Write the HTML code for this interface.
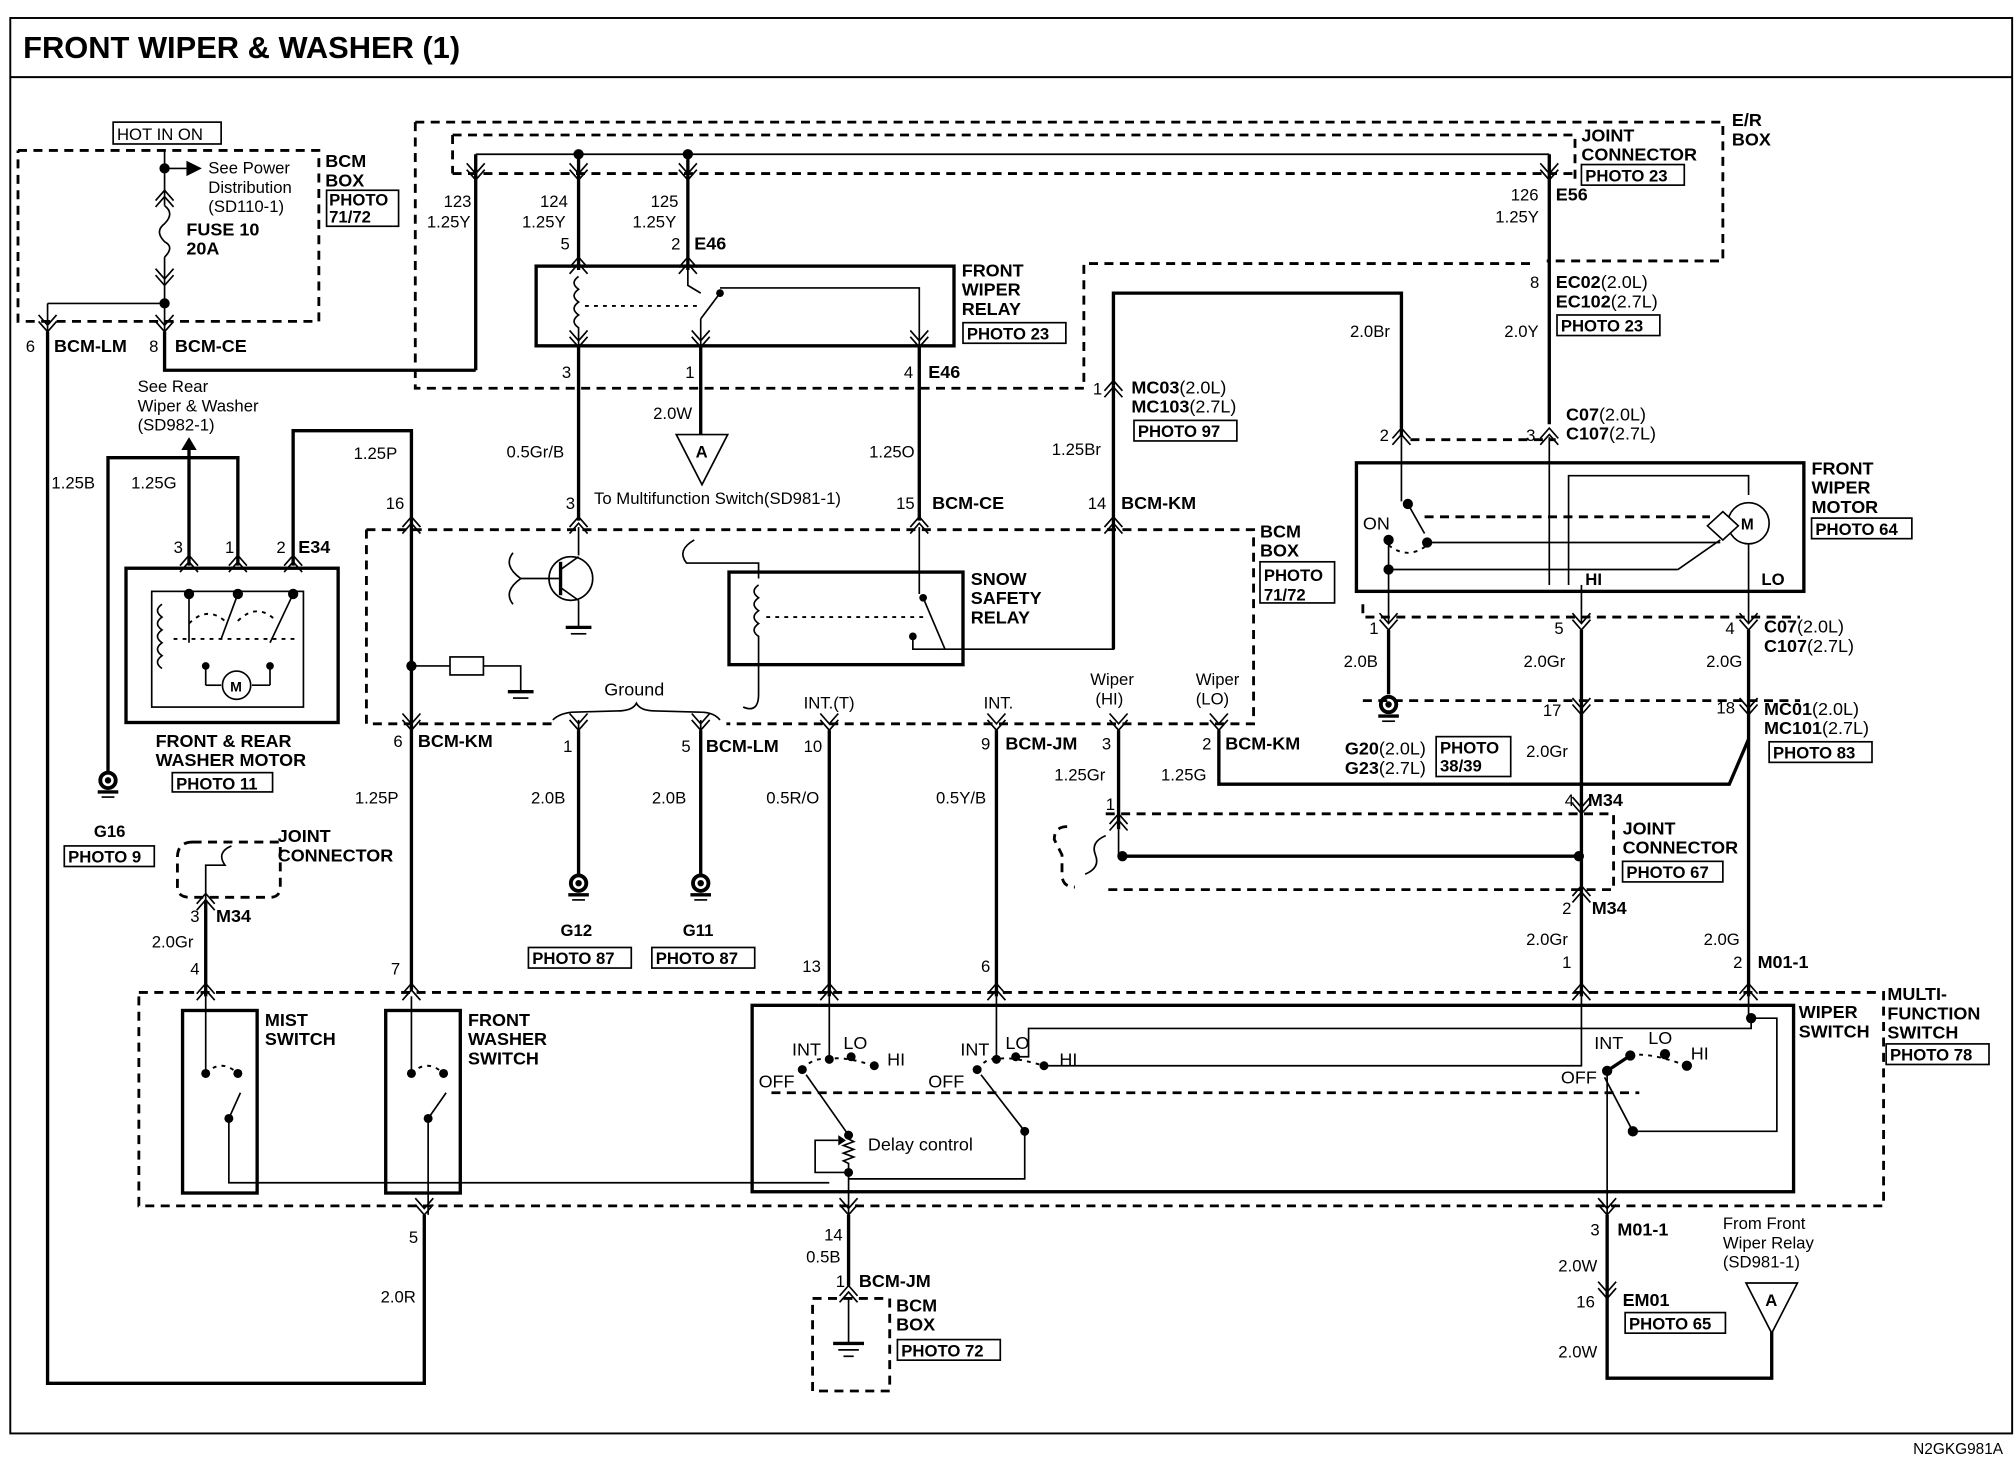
<!DOCTYPE html>
<html><head><meta charset="utf-8"><style>
html,body{margin:0;padding:0;background:#fff;}
svg{display:block;}
text{font-family:"Liberation Sans",Arial,sans-serif;fill:#000;}
.b{font-weight:bold;}
.w{stroke:#000;stroke-width:2.6;fill:none;}
.t{stroke:#000;stroke-width:1.3;fill:none;}
.d{stroke:#000;stroke-width:2.2;fill:none;stroke-dasharray:7 5;}
.dt{stroke:#000;stroke-width:1.5;fill:none;stroke-dasharray:3 4;}
.bx{stroke:#000;stroke-width:2.6;fill:none;}
.pb{stroke:#000;stroke-width:1.3;fill:#fff;}
</style></head><body>
<svg width="2016" height="1472" viewBox="0 0 1568 1145" preserveAspectRatio="none" xmlns="http://www.w3.org/2000/svg">
<defs>
<g id="cu"><polyline points="-7,8 0,0 7,8" class="t"/><polyline points="-7,13 0,5 7,13" class="t"/></g>
<g id="cd"><polyline points="-7,-8 0,0 7,-8" class="t"/><polyline points="-7,-13 0,-5 7,-13" class="t"/></g>
<g id="gnd"><circle r="6" fill="none" stroke="#000" stroke-width="3"/><circle r="2.5" fill="#000"/><line x1="-8" y1="9" x2="8" y2="9" class="w"/><line x1="-5" y1="13" x2="5" y2="13" class="t"/></g>
</defs>
<rect width="1568" height="1145" fill="#fff"/>
<rect x="8" y="14" width="1557" height="1101" class="t" style="stroke-width:1.5"/>
<line x1="8" y1="60" x2="1565" y2="60" class="t" style="stroke-width:1.5"/>
<text x="18" y="45" class="b" font-size="24">FRONT WIPER &amp; WASHER (1)</text>
<text x="1488" y="1131" font-size="12">N2GKG981A</text>

<rect x="88" y="95" width="84" height="17" class="pb"/><text x="91" y="109" font-size="13">HOT IN ON</text>
<polyline points="14,117 248,117 248,250 14,250 14,117" class="d"/>
<text x="253" y="130" class="b" font-size="14">BCM</text><text x="253" y="145" class="b" font-size="14">BOX</text>
<rect x="254" y="148" width="56" height="28" class="pb"/><text x="256" y="160" class="b" font-size="13">PHOTO</text><text x="256" y="173" class="b" font-size="13">71/72</text>
<line x1="128" y1="117" x2="128" y2="160" class="t"/><circle cx="128" cy="131" r="4"/>
<line x1="128" y1="131" x2="145" y2="131" class="t"/><polygon points="145,125 157,131 145,137"/>
<text x="162" y="135" font-size="13">See Power</text><text x="162" y="150" font-size="13">Distribution</text><text x="162" y="165" font-size="13">(SD110-1)</text>
<use href="#cu" x="128" y="148"/>
<path d="M128,160 q8,6 0,14 q-8,6 0,14 q8,4 0,12" class="t"/>
<text x="145" y="183" class="b" font-size="14">FUSE 10</text><text x="145" y="198" class="b" font-size="14">20A</text>
<line x1="128" y1="200" x2="128" y2="285" class="t"/>
<use href="#cd" x="128" y="222"/>
<circle cx="128" cy="236" r="4"/><line x1="37" y1="236" x2="128" y2="236" class="t"/>
<line x1="37" y1="236" x2="37" y2="260" class="t"/>
<use href="#cd" x="37" y="258"/><use href="#cd" x="128" y="258"/>
<text x="20" y="274" font-size="13">6</text><text x="42" y="274" class="b" font-size="14">BCM-LM</text>
<text x="116" y="274" font-size="13">8</text><text x="136" y="274" class="b" font-size="14">BCM-CE</text>
<polyline points="128,258 128,288 370,288" class="w"/>
<polyline points="37,258 37,1076 330,1076 330,945" class="w"/>

<polyline points="323,95 1340,95 1340,203 1203,203" class="d"/>
<polyline points="323,95 323,302 843,302 843,205 1195,205" class="d"/>
<polyline points="352,105 1225,105 1225,140" class="d"/>
<line x1="352" y1="105" x2="352" y2="135" class="d"/>
<line x1="352" y1="135" x2="1225" y2="135" class="d"/>
<text x="1347" y="98" class="b" font-size="14">E/R</text><text x="1347" y="113" class="b" font-size="14">BOX</text>
<text x="1230" y="110" class="b" font-size="14">JOINT</text><text x="1230" y="125" class="b" font-size="14">CONNECTOR</text>
<rect x="1230" y="128" width="80" height="16" class="pb"/><text x="1233" y="141" class="b" font-size="13">PHOTO 23</text>
<line x1="370" y1="120" x2="1205" y2="120" class="t"/>
<circle cx="450" cy="120" r="4"/><circle cx="535" cy="120" r="4"/>
<line x1="450" y1="120" x2="450" y2="210" class="w"/><line x1="535" y1="120" x2="535" y2="210" class="w"/>
<line x1="370" y1="120" x2="370" y2="288" class="w"/>
<line x1="1205" y1="120" x2="1205" y2="330" class="w"/>
<use href="#cd" x="370" y="140"/><use href="#cd" x="450" y="140"/><use href="#cd" x="535" y="140"/><use href="#cd" x="1205" y="140"/>
<text x="345" y="161" font-size="13">123</text><text x="332" y="177" font-size="13">1.25Y</text>
<text x="420" y="161" font-size="13">124</text><text x="406" y="177" font-size="13">1.25Y</text>
<text x="506" y="161" font-size="13">125</text><text x="492" y="177" font-size="13">1.25Y</text>
<text x="1175" y="156" font-size="13">126</text><text x="1210" y="156" class="b" font-size="14">E56</text><text x="1163" y="173" font-size="13">1.25Y</text>

<text x="436" y="194" font-size="13">5</text><text x="522" y="194" font-size="13">2</text><text x="540" y="194" class="b" font-size="14">E46</text>
<use href="#cu" x="450" y="200"/><use href="#cu" x="535" y="200"/>
<rect x="417" y="207" width="325" height="62" class="bx"/>
<text x="748" y="215" class="b" font-size="14">FRONT</text><text x="748" y="230" class="b" font-size="14">WIPER</text><text x="748" y="245" class="b" font-size="14">RELAY</text>
<rect x="749" y="251" width="80" height="16" class="pb"/><text x="752" y="264" class="b" font-size="13">PHOTO 23</text>
<path d="M450,215 q-7,5 0,10 q-7,5 0,10 q-7,5 0,10 q-7,5 0,10 L450,270" class="t"/>
<line x1="455" y1="238" x2="545" y2="238" class="dt"/>
<polyline points="535,210 535,222 545,228" class="t"/><circle cx="560" cy="228" r="3"/>
<line x1="560" y1="228" x2="545" y2="248" class="t"/><polyline points="545,248 545,275" class="t"/>
<polyline points="560,224 715,224 715,275" class="t"/>
<use href="#cd" x="450" y="270"/><use href="#cd" x="545" y="270"/><use href="#cd" x="715" y="270"/>
<text x="437" y="294" font-size="13">3</text><text x="533" y="294" font-size="13">1</text><text x="703" y="294" font-size="13">4</text><text x="722" y="294" class="b" font-size="14">E46</text>
<line x1="450" y1="270" x2="450" y2="405" class="w"/>
<line x1="545" y1="270" x2="545" y2="340" class="w"/>
<line x1="715" y1="270" x2="715" y2="405" class="w"/>
<text x="508" y="326" font-size="13">2.0W</text>
<polygon points="526,338 566,338 546,377" class="pb"/><text x="541" y="356" class="b" font-size="13">A</text>
<text x="462" y="392" font-size="13">To Multifunction Switch(SD981-1)</text>
<text x="394" y="356" font-size="13">0.5Gr/B</text><text x="676" y="356" font-size="13">1.25O</text>

<text x="107" y="305" font-size="13">See Rear</text><text x="107" y="320" font-size="13">Wiper &amp; Washer</text><text x="107" y="335" font-size="13">(SD982-1)</text>
<polygon points="141,350 153,350 147,340"/>
<line x1="147" y1="345" x2="147" y2="440" class="w"/>
<polyline points="84,600 84,356 185,356 185,440" class="w"/>
<polyline points="228,440 228,335 320,335 320,770" class="w"/>
<text x="40" y="380" font-size="13">1.25B</text><text x="102" y="380" font-size="13">1.25G</text><text x="275" y="357" font-size="13">1.25P</text>
<use href="#cu" x="147" y="432"/><use href="#cu" x="185" y="432"/><use href="#cu" x="228" y="432"/>
<text x="135" y="430" font-size="13">3</text><text x="175" y="430" font-size="13">1</text><text x="215" y="430" font-size="13">2</text><text x="232" y="430" class="b" font-size="14">E34</text>
<rect x="98" y="442" width="165" height="120" class="bx"/>
<rect x="118" y="460" width="118" height="90" class="t"/>
<path d="M126,470 q-7,5 0,10 q-7,5 0,10 q-7,5 0,10 q-7,5 0,10 q-7,5 0,10" class="t"/>
<circle cx="147" cy="462" r="4"/><circle cx="185" cy="462" r="4"/><circle cx="228" cy="462" r="4"/>
<line x1="147" y1="462" x2="147" y2="500" class="t"/><line x1="185" y1="462" x2="172" y2="497" class="t"/><line x1="228" y1="462" x2="210" y2="500" class="t"/>
<path d="M147,485 q15,-15 30,0 M185,483 q15,-15 30,0" class="dt"/>
<line x1="135" y1="497" x2="230" y2="497" class="dt"/>
<circle cx="160" cy="518" r="3"/><circle cx="210" cy="518" r="3"/>
<line x1="160" y1="518" x2="160" y2="533" class="t"/><line x1="210" y1="518" x2="210" y2="533" class="t"/>
<line x1="160" y1="533" x2="172" y2="533" class="t"/><line x1="196" y1="533" x2="210" y2="533" class="t"/>
<circle cx="184" cy="533" r="11" class="pb"/><text x="179" y="538" class="b" font-size="11">M</text>
<text x="121" y="581" class="b" font-size="14">FRONT &amp; REAR</text><text x="121" y="596" class="b" font-size="14">WASHER MOTOR</text>
<rect x="134" y="601" width="78" height="15" class="pb"/><text x="137" y="614" class="b" font-size="13">PHOTO 11</text>
<use href="#gnd" x="84" y="607"/>
<text x="73" y="651" class="b" font-size="13">G16</text>
<rect x="50" y="658" width="70" height="16" class="pb"/><text x="53" y="671" class="b" font-size="13">PHOTO 9</text>

<polyline points="285,412 975,412 975,563 565,563" class="d"/>
<polyline points="285,412 285,563 430,563" class="d"/>
<text x="980" y="418" class="b" font-size="14">BCM</text><text x="980" y="433" class="b" font-size="14">BOX</text>
<rect x="980" y="437" width="58" height="32" class="pb"/><text x="983" y="452" class="b" font-size="13">PHOTO</text><text x="983" y="467" class="b" font-size="13">71/72</text>
<text x="300" y="396" font-size="13">16</text><use href="#cu" x="320" y="402"/>
<text x="440" y="396" font-size="13">3</text><use href="#cu" x="450" y="402"/>
<text x="697" y="396" font-size="13">15</text><text x="725" y="396" class="b" font-size="14">BCM-CE</text><use href="#cu" x="715" y="402"/>
<text x="846" y="396" font-size="13">14</text><text x="872" y="396" class="b" font-size="14">BCM-KM</text><use href="#cu" x="866" y="402"/>
<line x1="450" y1="410" x2="450" y2="432" class="t"/>
<circle cx="444" cy="450" r="17" class="t"/>
<line x1="436" y1="437" x2="436" y2="463" class="w"/>
<line x1="436" y1="443" x2="450" y2="433" class="t"/><line x1="436" y1="457" x2="450" y2="467" class="t"/>
<line x1="405" y1="450" x2="436" y2="450" class="t"/><path d="M405,450 q-14,-10 -6,-20 M405,450 q-14,10 -6,20" class="t"/>
<line x1="450" y1="467" x2="450" y2="487" class="t"/><line x1="440" y1="488" x2="460" y2="488" class="w"/><line x1="444" y1="493" x2="456" y2="493" class="t"/>
<path d="M540,420 q-14,8 -6,18 L545,438 L590,438 L590,450" class="t"/>
<rect x="567" y="445" width="182" height="72" class="bx"/>
<text x="755" y="455" class="b" font-size="14">SNOW</text><text x="755" y="470" class="b" font-size="14">SAFETY</text><text x="755" y="485" class="b" font-size="14">RELAY</text>
<path d="M590,455 q-7,5 0,10 q-7,5 0,10 q-7,5 0,10 q-7,5 0,10 L590,540 q0,15 -12,10" class="t"/>
<line x1="596" y1="480" x2="720" y2="480" class="dt"/>
<line x1="715" y1="410" x2="715" y2="462" class="t"/><circle cx="718" cy="465" r="3"/>
<line x1="718" y1="465" x2="735" y2="505" class="t"/>
<circle cx="710" cy="495" r="3"/><polyline points="710,495 710,505 866,505 866,410" class="t"/>
<line x1="866" y1="300" x2="866" y2="505" class="w"/>
<polyline points="866,300 866,228 1090,228 1090,340" class="w"/>
<text x="1050" y="262" font-size="13">2.0Br</text><text x="1170" y="262" font-size="13">2.0Y</text>
<text x="818" y="354" font-size="13">1.25Br</text>
<text x="850" y="307" font-size="13">1</text><use href="#cu" x="866" y="296"/>
<text x="880" y="306" class="b" font-size="14">MC03<tspan font-weight="normal">(2.0L)</tspan></text>
<text x="880" y="321" class="b" font-size="14">MC103<tspan font-weight="normal">(2.7L)</tspan></text>
<rect x="882" y="327" width="80" height="16" class="pb"/><text x="885" y="340" class="b" font-size="13">PHOTO 97</text>
<circle cx="320" cy="518" r="4"/><line x1="320" y1="518" x2="350" y2="518" class="t"/>
<rect x="350" y="511" width="26" height="14" class="t"/><polyline points="376,518 405,518 405,538" class="t"/>
<line x1="395" y1="538" x2="415" y2="538" class="w"/><line x1="399" y1="543" x2="411" y2="543" class="t"/>
<text x="470" y="541" font-size="14">Ground</text>
<path d="M430,560 q5,-5 15,-6 L480,553 q12,0 15,-6 q3,6 15,6 L545,554 q10,0 15,6" class="t"/>
<line x1="450" y1="560" x2="450" y2="570" class="t"/><line x1="545" y1="560" x2="545" y2="570" class="t"/>
<use href="#cd" x="320" y="568"/><use href="#cd" x="450" y="568"/><use href="#cd" x="545" y="568"/>
<use href="#cd" x="645" y="568"/><use href="#cd" x="775" y="568"/><use href="#cd" x="870" y="568"/><use href="#cd" x="948" y="568"/>
<text x="306" y="581" font-size="13">6</text><text x="325" y="581" class="b" font-size="14">BCM-KM</text>
<text x="438" y="585" font-size="13">1</text><text x="530" y="585" font-size="13">5</text><text x="549" y="585" class="b" font-size="14">BCM-LM</text>
<text x="625" y="585" font-size="13">10</text><text x="763" y="583" font-size="13">9</text><text x="782" y="583" class="b" font-size="14">BCM-JM</text>
<text x="857" y="583" font-size="13">3</text><text x="935" y="583" font-size="13">2</text><text x="953" y="583" class="b" font-size="14">BCM-KM</text>
<text x="625" y="551" font-size="13">INT.(T)</text><text x="765" y="551" font-size="13">INT.</text>
<text x="848" y="533" font-size="13">Wiper</text><text x="852" y="548" font-size="13">(HI)</text>
<text x="930" y="533" font-size="13">Wiper</text><text x="930" y="548" font-size="13">(LO)</text>
<line x1="450" y1="568" x2="450" y2="680" class="w"/><line x1="545" y1="568" x2="545" y2="680" class="w"/>
<use href="#gnd" x="450" y="687"/><use href="#gnd" x="545" y="687"/>
<text x="413" y="625" font-size="13">2.0B</text><text x="507" y="625" font-size="13">2.0B</text>
<text x="436" y="728" class="b" font-size="13">G12</text><text x="531" y="728" class="b" font-size="13">G11</text>
<rect x="411" y="737" width="80" height="16" class="pb"/><text x="414" y="750" class="b" font-size="13">PHOTO 87</text>
<rect x="507" y="737" width="80" height="16" class="pb"/><text x="510" y="750" class="b" font-size="13">PHOTO 87</text>
<line x1="645" y1="568" x2="645" y2="775" class="w"/><line x1="775" y1="568" x2="775" y2="775" class="w"/>
<text x="596" y="625" font-size="13">0.5R/O</text><text x="728" y="625" font-size="13">0.5Y/B</text>
<text x="276" y="625" font-size="13">1.25P</text>
<line x1="870" y1="568" x2="870" y2="645" class="w"/>
<polyline points="948,568 948,610 1345,610 1360,575" class="w"/>
<text x="820" y="607" font-size="13">1.25Gr</text><text x="903" y="607" font-size="13">1.25G</text>
<text x="860" y="630" font-size="13">1</text><use href="#cu" x="870" y="633"/>

<text x="1210" y="224" class="b" font-size="14">EC02<tspan font-weight="normal">(2.0L)</tspan></text>
<text x="1210" y="239" class="b" font-size="14">EC102<tspan font-weight="normal">(2.7L)</tspan></text>
<rect x="1211" y="245" width="80" height="16" class="pb"/><text x="1214" y="258" class="b" font-size="13">PHOTO 23</text>
<text x="1190" y="224" font-size="13">8</text>
<text x="1073" y="343" font-size="13">2</text><use href="#cu" x="1090" y="333"/>
<text x="1187" y="343" font-size="13">3</text><use href="#cu" x="1205" y="333"/>
<polyline points="1097,342 1210,342" class="d"/>
<text x="1218" y="327" class="b" font-size="14">C07<tspan font-weight="normal">(2.0L)</tspan></text>
<text x="1218" y="342" class="b" font-size="14">C107<tspan font-weight="normal">(2.7L)</tspan></text>
<rect x="1055" y="360" width="348" height="100" class="bx"/>
<text x="1409" y="369" class="b" font-size="14">FRONT</text><text x="1409" y="384" class="b" font-size="14">WIPER</text><text x="1409" y="399" class="b" font-size="14">MOTOR</text>
<rect x="1409" y="403" width="78" height="16" class="pb"/><text x="1412" y="416" class="b" font-size="13">PHOTO 64</text>
<line x1="1090" y1="340" x2="1090" y2="390" class="t"/><circle cx="1095" cy="392" r="4"/>
<line x1="1095" y1="392" x2="1108" y2="415" class="t"/><circle cx="1110" cy="422" r="4"/><circle cx="1080" cy="420" r="4"/>
<path d="M1080,424 q15,12 30,0" class="dt"/><line x1="1108" y1="402" x2="1330" y2="402" class="d"/>
<line x1="1110" y1="422" x2="1338" y2="422" class="t"/>
<text x="1060" y="412" font-size="14">ON</text>
<circle cx="1080" cy="443" r="4"/><line x1="1080" y1="420" x2="1080" y2="485" class="t"/>
<line x1="1080" y1="443" x2="1305" y2="443" class="t"/><line x1="1305" y1="443" x2="1338" y2="420" class="t"/>
<line x1="1205" y1="340" x2="1205" y2="455" class="t"/>
<polyline points="1220,455 1220,370 1360,370 1360,385" class="t"/>
<circle cx="1360" cy="407" r="16" class="pb"/><text x="1354" y="412" class="b" font-size="12">M</text>
<polygon points="1328,409 1340,398 1352,409 1340,420" class="pb"/>
<line x1="1360" y1="423" x2="1360" y2="485" class="t"/>
<line x1="1230" y1="455" x2="1230" y2="485" class="t"/>
<text x="1233" y="455" class="b" font-size="13">HI</text><text x="1370" y="455" class="b" font-size="13">LO</text>
<polyline points="1060,470 1060,480 1400,480" class="d"/>
<use href="#cd" x="1080" y="490"/><use href="#cd" x="1230" y="490"/><use href="#cd" x="1360" y="490"/>
<text x="1065" y="493" font-size="13">1</text><text x="1209" y="493" font-size="13">5</text><text x="1342" y="493" font-size="13">4</text>
<text x="1372" y="492" class="b" font-size="14">C07<tspan font-weight="normal">(2.0L)</tspan></text>
<text x="1372" y="507" class="b" font-size="14">C107<tspan font-weight="normal">(2.7L)</tspan></text>
<line x1="1080" y1="490" x2="1080" y2="540" class="w"/>
<use href="#gnd" x="1080" y="548"/>
<text x="1045" y="519" font-size="13">2.0B</text><text x="1185" y="519" font-size="13">2.0Gr</text><text x="1327" y="519" font-size="13">2.0G</text>
<text x="1046" y="587" class="b" font-size="14">G20<tspan font-weight="normal">(2.0L)</tspan></text>
<text x="1046" y="602" class="b" font-size="14">G23<tspan font-weight="normal">(2.7L)</tspan></text>
<rect x="1117" y="573" width="58" height="31" class="pb"/><text x="1120" y="586" class="b" font-size="13">PHOTO</text><text x="1120" y="600" class="b" font-size="13">38/39</text>
<line x1="1230" y1="490" x2="1230" y2="775" class="w"/>
<line x1="1360" y1="490" x2="1360" y2="775" class="w"/>
<use href="#cd" x="1230" y="556"/><use href="#cd" x="1360" y="556"/>
<text x="1200" y="557" font-size="13">17</text><text x="1335" y="555" font-size="13">18</text>
<polyline points="1060,545 1400,545" class="d"/>
<text x="1372" y="556" class="b" font-size="14">MC01<tspan font-weight="normal">(2.0L)</tspan></text>
<text x="1372" y="571" class="b" font-size="14">MC101<tspan font-weight="normal">(2.7L)</tspan></text>
<rect x="1376" y="577" width="80" height="16" class="pb"/><text x="1379" y="590" class="b" font-size="13">PHOTO 83</text>
<text x="1187" y="589" font-size="13">2.0Gr</text>
<text x="1217" y="627" font-size="13">4</text><text x="1235" y="627" class="b" font-size="14">M34</text>
<use href="#cd" x="1230" y="633"/>
<polyline points="860,633 1255,633 1255,692 860,692" class="d"/>
<path d="M830,643 q-10,0 -10,10 L826,665 L826,680 q0,10 10,10" class="d"/>
<path d="M860,650 q-12,5 -8,15 q4,10 -8,15" class="t"/>
<line x1="870" y1="645" x2="870" y2="666" class="t"/><circle cx="873" cy="666" r="4"/><circle cx="1228" cy="666" r="4"/>
<line x1="873" y1="666" x2="1228" y2="666" class="w"/>
<text x="1262" y="649" class="b" font-size="14">JOINT</text><text x="1262" y="664" class="b" font-size="14">CONNECTOR</text>
<rect x="1262" y="670" width="78" height="16" class="pb"/><text x="1265" y="683" class="b" font-size="13">PHOTO 67</text>
<use href="#cu" x="1230" y="689"/>
<text x="1215" y="711" font-size="13">2</text><text x="1238" y="711" class="b" font-size="14">M34</text>
<text x="1187" y="735" font-size="13">2.0Gr</text><text x="1325" y="735" font-size="13">2.0G</text>
<text x="1215" y="753" font-size="13">1</text><text x="1348" y="753" font-size="13">2</text><text x="1367" y="753" class="b" font-size="14">M01-1</text>

<path d="M150,655 q-12,0 -12,12 L138,690 q0,8 10,8 L210,698 q8,0 8,-8 L218,655 Z" class="d"/>
<text x="216" y="655" class="b" font-size="14">JOINT</text><text x="216" y="670" class="b" font-size="14">CONNECTOR</text>
<path d="M180,658 q-12,5 -5,15 L160,673 L160,700" class="t"/>
<use href="#cu" x="160" y="695"/>
<text x="148" y="717" font-size="13">3</text><text x="168" y="717" class="b" font-size="14">M34</text>
<text x="118" y="737" font-size="13">2.0Gr</text>
<line x1="160" y1="700" x2="160" y2="775" class="w"/>
<text x="148" y="758" font-size="13">4</text><text x="304" y="758" font-size="13">7</text>
<text x="624" y="756" font-size="13">13</text><text x="763" y="756" font-size="13">6</text>
<use href="#cu" x="160" y="765"/><use href="#cu" x="320" y="765"/><use href="#cu" x="645" y="765"/><use href="#cu" x="775" y="765"/><use href="#cu" x="1230" y="765"/><use href="#cu" x="1360" y="765"/>
<polyline points="108,772 1465,772 1465,938 108,938 108,772" class="d"/>
<text x="1468" y="778" class="b" font-size="14">MULTI-</text><text x="1468" y="793" class="b" font-size="14">FUNCTION</text><text x="1468" y="808" class="b" font-size="14">SWITCH</text>
<rect x="1467" y="812" width="80" height="16" class="pb"/><text x="1470" y="825" class="b" font-size="13">PHOTO 78</text>
<rect x="142" y="786" width="58" height="142" class="bx"/>
<rect x="300" y="786" width="58" height="142" class="bx"/>
<text x="206" y="798" class="b" font-size="14">MIST</text><text x="206" y="813" class="b" font-size="14">SWITCH</text>
<text x="364" y="798" class="b" font-size="14">FRONT</text><text x="364" y="813" class="b" font-size="14">WASHER</text><text x="364" y="828" class="b" font-size="14">SWITCH</text>
<line x1="160" y1="775" x2="160" y2="835" class="t"/><circle cx="160" cy="835" r="3.5"/><circle cx="178" cy="870" r="3.5"/><circle cx="185" cy="835" r="3.5"/>
<line x1="178" y1="870" x2="187" y2="850" class="t"/><path d="M160,835 q12,-12 25,0" class="dt"/>
<polyline points="178,870 178,920 645,920" class="t"/>
<line x1="320" y1="775" x2="320" y2="835" class="t"/><circle cx="320" cy="835" r="3.5"/><circle cx="333" cy="870" r="3.5"/><circle cx="345" cy="835" r="3.5"/>
<line x1="333" y1="870" x2="347" y2="850" class="t"/><path d="M320,835 q12,-12 25,0" class="dt"/>
<line x1="333" y1="870" x2="333" y2="945" class="t"/>
<use href="#cd" x="330" y="945"/>
<text x="318" y="967" font-size="13">5</text><text x="296" y="1013" font-size="13">2.0R</text>
<rect x="585" y="782" width="810" height="145" class="bx"/>
<text x="1399" y="792" class="b" font-size="14">WIPER</text><text x="1399" y="807" class="b" font-size="14">SWITCH</text>
<line x1="645" y1="775" x2="645" y2="824" class="t"/><line x1="775" y1="775" x2="775" y2="824" class="t"/>
<circle cx="645" cy="824" r="3.5"/><circle cx="662" cy="822" r="3.5"/><circle cx="680" cy="829" r="3.5"/><circle cx="624" cy="832" r="3.5"/>
<path d="M624,832 q8,-10 21,-8 q10,-3 35,5" class="dt"/>
<text x="616" y="821" font-size="14">INT</text><text x="656" y="816" font-size="14">LO</text><text x="690" y="829" font-size="14">HI</text><text x="590" y="846" font-size="14">OFF</text>
<line x1="627" y1="836" x2="660" y2="883" class="t"/><circle cx="660" cy="883" r="3.5"/>
<path d="M660,883 l0,3 l4,2 l-8,3 l8,3 l-8,3 l8,3 l-8,3 l4,2 l0,5" class="t"/>
<circle cx="660" cy="912" r="3.5"/><polyline points="660,912 634,912 634,887 652,887" class="t"/><polygon points="652,883 658,887 652,891"/>
<text x="675" y="895" font-size="14">Delay control</text>
<line x1="660" y1="912" x2="660" y2="945" class="t"/>
<circle cx="775" cy="824" r="3.5"/><circle cx="790" cy="822" r="3.5"/><circle cx="812" cy="829" r="3.5"/><circle cx="760" cy="832" r="3.5"/>
<path d="M760,832 q8,-10 15,-8 q10,-3 37,5" class="dt"/>
<text x="747" y="821" font-size="14">INT</text><text x="782" y="816" font-size="14">LO</text><text x="824" y="829" font-size="14">HI</text><text x="722" y="846" font-size="14">OFF</text>
<line x1="763" y1="836" x2="797" y2="880" class="t"/><circle cx="797" cy="880" r="3.5"/>
<polyline points="797,880 797,917 660,917" class="t"/>
<polyline points="790,822 800,822 800,800 1362,800 1362,792" class="t"/><circle cx="1362" cy="792" r="4"/>
<polyline points="812,829 1230,829 1230,775" class="t"/>
<line x1="600" y1="850" x2="1275" y2="850" class="d"/>
<line x1="1360" y1="775" x2="1360" y2="792" class="t"/>
<polyline points="1362,792 1382,792 1382,880 1270,880" class="t"/><circle cx="1270" cy="880" r="4"/>
<line x1="1270" y1="880" x2="1248" y2="838" class="t"/>
<circle cx="1250" cy="833" r="4"/><circle cx="1268" cy="821" r="4"/><circle cx="1295" cy="820" r="4"/><circle cx="1312" cy="829" r="4"/>
<line x1="1250" y1="833" x2="1268" y2="821" class="w"/><path d="M1268,821 q14,-3 44,8" class="dt"/>
<text x="1240" y="816" font-size="14">INT</text><text x="1282" y="812" font-size="14">LO</text><text x="1315" y="824" font-size="14">HI</text><text x="1214" y="843" font-size="14">OFF</text>
<line x1="1250" y1="833" x2="1250" y2="945" class="t"/>
<use href="#cd" x="660" y="945"/><use href="#cd" x="1250" y="945"/>
<line x1="660" y1="945" x2="660" y2="1000" class="w"/>
<text x="641" y="965" font-size="13">14</text><text x="627" y="982" font-size="13">0.5B</text>
<use href="#cu" x="660" y="1000"/><text x="650" y="1001" font-size="13">1</text><text x="668" y="1001" class="b" font-size="14">BCM-JM</text>
<rect x="632" y="1010" width="60" height="72" class="d"/>
<line x1="660" y1="1010" x2="660" y2="1045" class="t"/><line x1="648" y1="1045" x2="672" y2="1045" class="w"/><line x1="652" y1="1050" x2="668" y2="1050" class="t"/><line x1="656" y1="1055" x2="664" y2="1055" class="t"/>
<text x="697" y="1020" class="b" font-size="14">BCM</text><text x="697" y="1035" class="b" font-size="14">BOX</text>
<rect x="698" y="1042" width="80" height="16" class="pb"/><text x="701" y="1055" class="b" font-size="13">PHOTO 72</text>
<line x1="1250" y1="945" x2="1250" y2="1010" class="w"/>
<text x="1237" y="961" font-size="13">3</text><text x="1258" y="961" class="b" font-size="14">M01-1</text>
<text x="1212" y="989" font-size="13">2.0W</text>
<use href="#cd" x="1250" y="1010"/>
<text x="1226" y="1017" font-size="13">16</text><text x="1262" y="1016" class="b" font-size="14">EM01</text>
<rect x="1264" y="1021" width="78" height="16" class="pb"/><text x="1267" y="1034" class="b" font-size="13">PHOTO 65</text>
<text x="1212" y="1056" font-size="13">2.0W</text>
<polyline points="1250,1010 1250,1072 1378,1072 1378,1030" class="w"/>
<polygon points="1358,998 1398,998 1378,1037" class="pb"/><text x="1373" y="1016" class="b" font-size="13">A</text>
<text x="1340" y="956" font-size="13">From Front</text><text x="1340" y="971" font-size="13">Wiper Relay</text><text x="1340" y="986" font-size="13">(SD981-1)</text>
</svg>
</body></html>
